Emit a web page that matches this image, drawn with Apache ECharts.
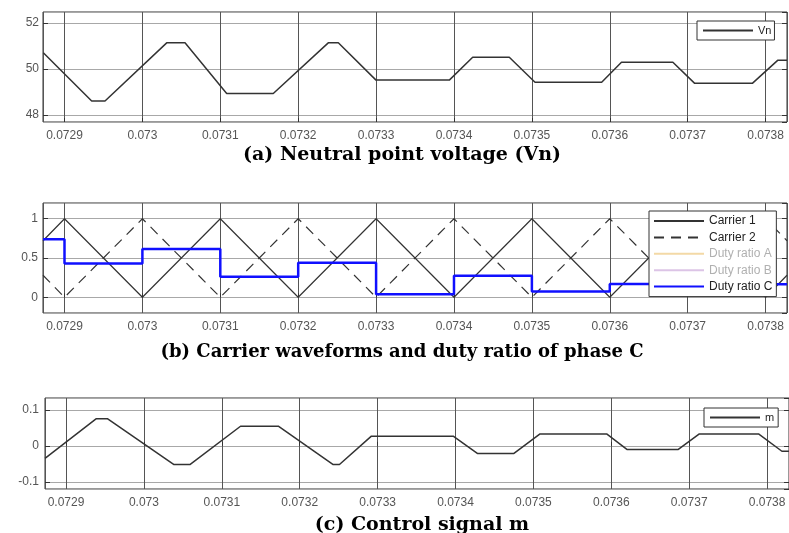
<!DOCTYPE html>
<html><head><meta charset="utf-8">
<script src="https://cdn.jsdelivr.net/npm/echarts@6/dist/echarts.min.js"></script>
<style>html,body{margin:0;padding:0;background:#fff}#c{width:789px;height:533px}</style>
</head><body><div id="c"></div>
<script>
// ---- Data ----
var vnTime = [0.0728728, 0.0729349, 0.072952, 0.0730312, 0.0730547, 0.0731082, 0.073168, 0.0732386, 0.0732515, 0.0732999, 0.073394, 0.073424, 0.073471, 0.073504, 0.0735896, 0.073615, 0.073681, 0.073709, 0.073783, 0.0738155, 0.0738275];
var vnValue = [50.71, 48.61, 48.61, 51.14, 51.14, 48.94, 48.94, 51.14, 51.14, 49.52, 49.52, 50.51, 50.51, 49.43, 49.43, 50.30, 50.30, 49.38, 49.38, 50.38, 50.38];

var carrierTime = [0.0728724, 0.0729, 0.0730, 0.0731, 0.0732, 0.0733, 0.0734, 0.0735, 0.0736, 0.0737, 0.0738, 0.0738275];
var carrier1 = [0.72, 1, 0, 1, 0, 1, 0, 1, 0, 1, 0, 0.28];
var carrier2 = [0.28, 0, 1, 0, 1, 0, 1, 0, 1, 0, 1, 0.72];

var dutyTime = [0.0728724, 0.0729, 0.0730, 0.0731, 0.0732, 0.0733, 0.0734, 0.0735, 0.0736, 0.0737, 0.0738275];
var dutyC = [0.74, 0.43, 0.615, 0.26, 0.44, 0.04, 0.275, 0.075, 0.17, 0.165, 0.165];

var mTime = [0.072873, 0.0729385, 0.0729535, 0.0730386, 0.073059, 0.073124, 0.0731725, 0.073243, 0.073251, 0.073292, 0.073397, 0.073428, 0.073475, 0.0735085, 0.073594, 0.07362, 0.073686, 0.073713, 0.073789, 0.073819, 0.073828];
var mValue = [-0.035, 0.075, 0.075, -0.052, -0.052, 0.0545, 0.0545, -0.052, -0.052, 0.027, 0.027, -0.021, -0.021, 0.033, 0.033, -0.010, -0.010, 0.033, 0.033, -0.015, -0.015];

var titles = ['(a) Neutral point voltage (Vn)', '(b) Carrier waveforms and duty ratio of phase C', '(c) Control signal m'];

function zip(a, b) { return a.map(function (x, i) { return [x, b[i]]; }); }

var chart = echarts.init(document.getElementById('c'), null, {renderer: 'canvas'});

var FONT = 'Liberation Sans, Arial, sans-serif';
var labelStyle = {color: '#555', fontSize: 12, fontFamily: FONT};

function xAxis(gi, min, max) {
  return {
    type: 'value', gridIndex: gi, min: min, max: max, splitNumber: 10,
    axisLine: {show: false},
    axisTick: {show: true, inside: true, length: 4, lineStyle: {color: '#333'}},
    splitLine: {show: true, lineStyle: {color: '#555', width: 1}},
    axisLabel: Object.assign({margin: 8, showMinLabel: false, showMaxLabel: false,
      formatter: function (v) { return String(+v.toFixed(4)); }}, labelStyle)
  };
}
function yAxis(gi, min, max, split, margin, right) {
  return {
    type: 'value', gridIndex: gi, min: min, max: max, splitNumber: split,
    position: right ? 'right' : 'left',
    axisLine: {show: false},
    axisTick: {show: true, inside: true, length: 5, lineStyle: {color: '#333'}},
    splitLine: {show: !right, lineStyle: {color: '#a8a8a8', width: 1}},
    axisLabel: Object.assign({show: !right, margin: margin, showMinLabel: false, showMaxLabel: false,
      formatter: function (v) { return String(+v.toFixed(2)); }}, labelStyle)
  };
}

var legendBase = {
  orient: 'vertical', backgroundColor: '#fff', borderColor: '#333', borderWidth: 1,
  borderRadius: 0, itemWidth: 50, itemHeight: 12,
  itemStyle: {opacity: 0},
  textStyle: {fontSize: 11, fontFamily: FONT, color: '#222'}
};

var option = {
  animation: false,
  backgroundColor: '#fff',
  grid: [
    {left: 43, top: 12, width: 744, height: 110, show: true, borderColor: '#333', borderWidth: 1, backgroundColor: '#fff', containLabel: false},
    {left: 43, top: 203, width: 744, height: 110, show: true, borderColor: '#333', borderWidth: 1, backgroundColor: '#fff', containLabel: false},
    {left: 45, top: 398, width: 744, height: 91, show: true, borderColor: '#333', borderWidth: 1, backgroundColor: '#fff', containLabel: false}
  ],
  xAxis: [
    xAxis(0, 0.0728724, 0.0738275),
    xAxis(1, 0.0728724, 0.0738275),
    xAxis(2, 0.072873, 0.0738281)
  ],
  yAxis: [
    yAxis(0, 47.7, 52.48, 2, 4, false),
    yAxis(1, -0.2, 1.2, 3, 5, false),
    yAxis(2, -0.12, 0.133, 2, 6, false),
    yAxis(0, 47.7, 52.48, 2, 4, true),
    yAxis(1, -0.2, 1.2, 3, 5, true),
    yAxis(2, -0.12, 0.133, 2, 6, true)
  ],
  legend: [
    Object.assign({}, legendBase, {left: 697, top: 21, padding: [4, 3, 4, 5], data: ['Vn']}),
    Object.assign({}, legendBase, {left: 649, top: 211, padding: [4, 4, 4, 4], itemGap: 4.4,
      textStyle: {fontSize: 12, fontFamily: FONT, color: '#222'},
      data: ['Carrier 1', 'Carrier 2',
        {name: 'Duty ratio A', textStyle: {color: '#b0b0b0'}},
        {name: 'Duty ratio B', textStyle: {color: '#b0b0b0'}},
        'Duty ratio C']}),
    Object.assign({}, legendBase, {left: 704, top: 408, padding: [4, 4, 4, 5], data: ['m']})
  ],
  graphic: [
    {type: 'text', x: 402, y: 155, style: {text: titles[0], font: 'bold 19px "DejaVu Serif", serif', fill: '#000', align: 'center', verticalAlign: 'middle'}},
    {type: 'text', x: 402, y: 352, style: {text: titles[1], font: 'bold 18px "DejaVu Serif", serif', fill: '#000', align: 'center', verticalAlign: 'middle'}},
    {type: 'text', x: 422, y: 525, style: {text: titles[2], font: 'bold 19px "DejaVu Serif", serif', fill: '#000', align: 'center', verticalAlign: 'middle'}}
  ],
  series: [
    {name: 'Vn', type: 'line', xAxisIndex: 0, yAxisIndex: 0, data: zip(vnTime, vnValue), symbol: 'none',
      lineStyle: {color: '#333', width: 1.5}, itemStyle: {color: '#333'}},
    {name: 'Carrier 1', type: 'line', xAxisIndex: 1, yAxisIndex: 1, data: zip(carrierTime, carrier1), symbol: 'none',
      lineStyle: {color: '#333', width: 1.2}, itemStyle: {color: '#333'}},
    {name: 'Carrier 2', type: 'line', xAxisIndex: 1, yAxisIndex: 1, data: zip(carrierTime, carrier2), symbol: 'none',
      lineStyle: {color: '#333', width: 1.2, type: [10, 7]}, itemStyle: {color: '#333'}},
    {name: 'Duty ratio A', type: 'line', xAxisIndex: 1, yAxisIndex: 1, data: [], symbol: 'none',
      lineStyle: {color: '#f3d9a6', width: 1}, itemStyle: {color: '#f3d9a6'}},
    {name: 'Duty ratio B', type: 'line', xAxisIndex: 1, yAxisIndex: 1, data: [], symbol: 'none',
      lineStyle: {color: '#dcc4e6', width: 1}, itemStyle: {color: '#dcc4e6'}},
    {name: 'Duty ratio C', type: 'line', step: 'end', xAxisIndex: 1, yAxisIndex: 1, data: zip(dutyTime, dutyC), symbol: 'none',
      lineStyle: {color: '#1010ff', width: 2.5}, itemStyle: {color: '#1010ff'}, z: 3},
    {name: 'm', type: 'line', xAxisIndex: 2, yAxisIndex: 2, data: zip(mTime, mValue), symbol: 'none',
      lineStyle: {color: '#333', width: 1.5}, itemStyle: {color: '#333'}}
  ]
};
chart.setOption(option);
</script>
</body></html>
